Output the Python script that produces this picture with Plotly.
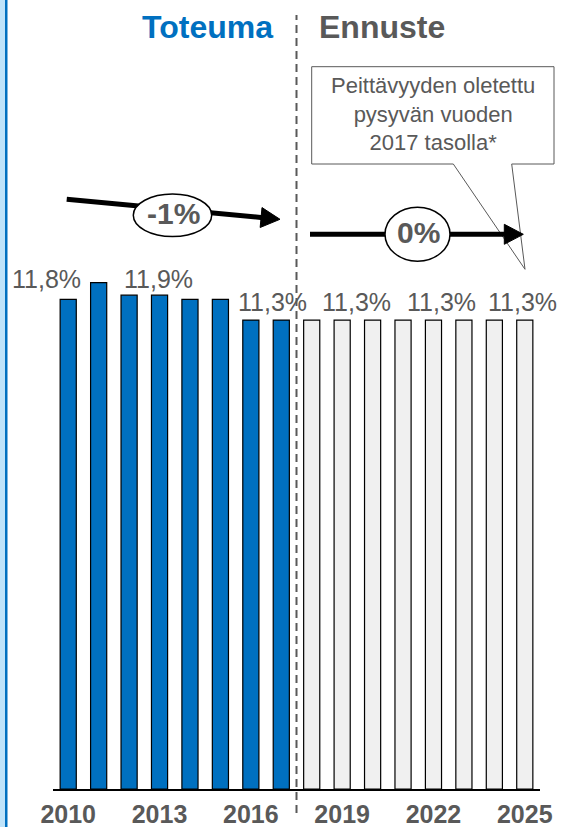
import math
import plotly.graph_objects as go

# Coverage ratio (%) by year: realised and forecast
actual_years = [2010, 2011, 2012, 2013, 2014, 2015, 2016, 2017]
actual_values = [11.8, 12.2, 11.9, 11.9, 11.8, 11.8, 11.3, 11.3]
forecast_years = [2018, 2019, 2020, 2021, 2022, 2023, 2024, 2025]
forecast_values = [11.3, 11.3, 11.3, 11.3, 11.3, 11.3, 11.3, 11.3]

tick_years = [2010, 2013, 2016, 2019, 2022, 2025]
labelled_years = [2010, 2013, 2017, 2020, 2022, 2025]

header_actual = "Toteuma"
header_forecast = "Ennuste"
trend_actual = "-1%"
trend_forecast = "0%"
callout_lines = ["Peittävyyden oletettu", "pysyvän vuoden", "2017 tasolla*"]

FONT = "Liberation Sans, Arial, sans-serif"
BLUE = "#0070C0"
GREY_TXT = "#595959"
W, H = 562, 827
ML, MR, MT, MB = 53, 22, 0, 38
PW, PH = W - ML - MR, H - MT - MB
PX_PER_UNIT = 41.5


def px(x):
    return (x - ML) / PW


def py(y):
    return (MT + PH - y) / PH


all_years = actual_years + forecast_years
all_values = actual_values + forecast_values
value_of = dict(zip(all_years, all_values))

fig = go.Figure()
fig.add_bar(x=actual_years, y=actual_values, width=0.53,
            marker=dict(color=BLUE, line=dict(color="#000000", width=1.2)))
fig.add_bar(x=forecast_years, y=forecast_values, width=0.53,
            marker=dict(color="#F0F0F0", line=dict(color="#000000", width=1.2)))

shapes = []
annotations = []

# left accent stripe
shapes.append(dict(type="rect", xref="paper", yref="paper", x0=px(0), x1=px(5),
                   y0=py(H), y1=py(0), fillcolor="#BEE3FA", line_width=0, layer="above"))
shapes.append(dict(type="rect", xref="paper", yref="paper", x0=px(5), x1=px(7.5),
                   y0=py(H), y1=py(0), fillcolor=BLUE, line_width=0, layer="above"))

# divider between realised and forecast
shapes.append(dict(type="line", xref="x", yref="paper", x0=2017.5, x1=2017.5,
                   y0=py(813), y1=py(15), line=dict(color=GREY_TXT, width=2, dash="8px,5px"),
                   layer="above"))

# callout box with pointer
cb = [(311.7, 66.7), (554, 66.7), (554, 164), (511.7, 164), (525, 269.3),
      (453.3, 164), (311.7, 164)]
path = "M " + " L ".join(f"{px(a):.5f},{py(b):.5f}" for a, b in cb) + " Z"
shapes.append(dict(type="path", xref="paper", yref="paper", path=path,
                   fillcolor="#FFFFFF", line=dict(color=GREY_TXT, width=1), layer="above"))
annotations.append(dict(xref="paper", yref="paper", x=px(432.5), y=py(114),
                        text="<br>".join(callout_lines), showarrow=False,
                        xanchor="center", yanchor="middle", align="center",
                        font=dict(family=FONT, size=22, color=GREY_TXT)))


def trend_arrow(x0, y0, x1, y1, cx, cy, rx, ry, text):
    dx, dy = x1 - x0, y1 - y0
    L = math.hypot(dx, dy)
    ux, uy = dx / L, dy / L
    hl, hw = 19, 10
    bx, by = x1 - ux * hl, y1 - uy * hl
    shapes.append(dict(type="line", xref="paper", yref="paper",
                       x0=px(x0), y0=py(y0), x1=px(bx + ux * 2), y1=py(by + uy * 2),
                       line=dict(color="#000000", width=5), layer="above"))
    pts = [(x1, y1), (bx - uy * hw, by + ux * hw), (bx + uy * hw, by - ux * hw)]
    p = "M " + " L ".join(f"{px(a):.5f},{py(b):.5f}" for a, b in pts) + " Z"
    shapes.append(dict(type="path", xref="paper", yref="paper", path=p,
                       fillcolor="#000000", line=dict(color="#000000", width=1), layer="above"))
    shapes.append(dict(type="circle", xref="paper", yref="paper",
                       x0=px(cx - rx), x1=px(cx + rx), y0=py(cy + ry), y1=py(cy - ry),
                       fillcolor="#FFFFFF", line=dict(color="#000000", width=1.5), layer="above"))
    annotations.append(dict(xref="paper", yref="paper", x=px(cx + 1), y=py(cy - 2),
                            text=f"<b>{text}</b>", showarrow=False,
                            xanchor="center", yanchor="middle",
                            font=dict(family=FONT, size=30, color=GREY_TXT)))


trend_arrow(66.7, 199.3, 280, 219.3, 172.5, 215.3, 39.2, 21.3, trend_actual)
trend_arrow(310, 234.3, 523.3, 234.3, 417.5, 234.2, 32.5, 27, trend_forecast)

# section headers
annotations.append(dict(xref="paper", yref="paper", x=px(207.5), y=py(27), text=f"<b>{header_actual}</b>",
                        showarrow=False, xanchor="center", yanchor="middle",
                        font=dict(family=FONT, size=32, color=BLUE)))
annotations.append(dict(xref="paper", yref="paper", x=px(381.7), y=py(27), text=f"<b>{header_forecast}</b>",
                        showarrow=False, xanchor="center", yanchor="middle",
                        font=dict(family=FONT, size=32, color=GREY_TXT)))

# value labels
label_dx = [-21.5, -1, -8.6, -16, 7.6, -2]
label_dy = [20.3, 16, 18.3, 18.3, 18.3, 18.3]
for yr, dx, dy in zip(labelled_years, label_dx, label_dy):
    v = value_of[yr]
    annotations.append(dict(x=yr, y=v, xref="x", yref="y", showarrow=False,
                            text=f"{v:.1f}".replace(".", ",") + "%",
                            xanchor="center", yanchor="middle", xshift=dx, yshift=dy,
                            font=dict(family=FONT, size=25, color=GREY_TXT)))

fig.update_layout(
    width=W, height=H,
    margin=dict(l=ML, r=MR, t=MT, b=MB, pad=0),
    paper_bgcolor="#FFFFFF", plot_bgcolor="#FFFFFF",
    showlegend=False, barmode="overlay",
    shapes=shapes, annotations=annotations,
    xaxis=dict(range=[2009.5, 2025.5], tickvals=tick_years, ticktext=[str(t) for t in tick_years],
               showgrid=False, zeroline=False, showline=True, linecolor="#000000", linewidth=2,
               ticks="", automargin=False, ticklabelstandoff=2,
               tickfont=dict(family=FONT, size=25, color=GREY_TXT, weight="bold")),
    yaxis=dict(range=[0, PH / PX_PER_UNIT], visible=False, automargin=False),
)

fig.write_html("out.html")
